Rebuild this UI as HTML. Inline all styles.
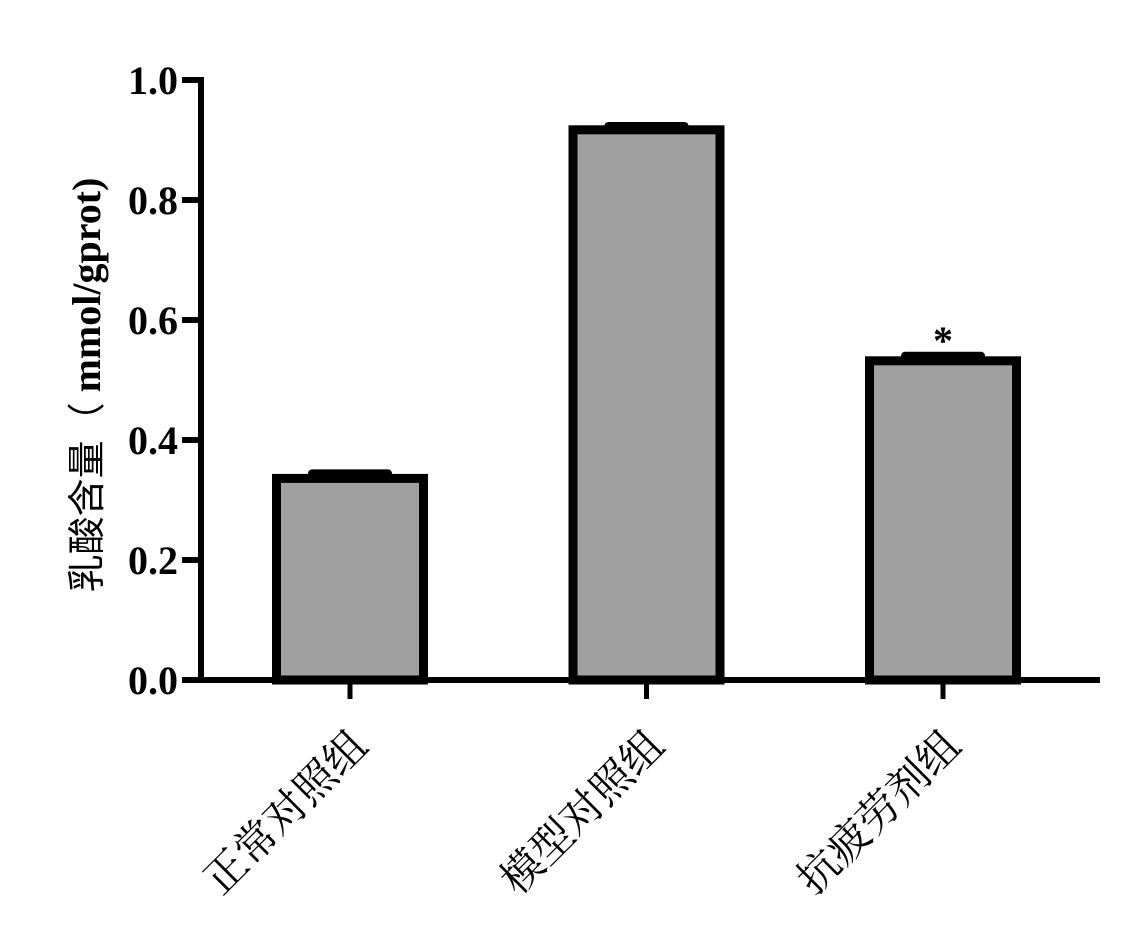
<!DOCTYPE html>
<html><head><meta charset="utf-8"><style>
html,body{margin:0;padding:0;background:#fff;}
svg{display:block;}
</style></head><body>
<svg id="chart" width="1123" height="945" viewBox="0 0 1123 945" xmlns="http://www.w3.org/2000/svg">
<g id="axes"></g>
<g id="bars"></g>
<text transform="translate(100,385) rotate(-90)" text-anchor="middle" font-size="40" font-family="'Liberation Serif','Noto Serif CJK SC',serif"><tspan font-family="'Noto Sans CJK SC',sans-serif" font-weight="normal" font-size="38">乳酸含量（</tspan><tspan font-weight="bold"> mmol/gprot)</tspan></text>
</svg>
<script>
const categories = ["正常对照组","模型对照组","抗疲劳剂组"];
const values = [0.336, 0.917, 0.532];
const errors = [0.010, 0.008, 0.010];
const marks = ["", "", "*"];
const yTicks = [0, 0.2, 0.4, 0.6, 0.8, 1.0];
const yTickLabels = ["0.0","0.2","0.4","0.6","0.8","1.0"];

const NS = "http://www.w3.org/2000/svg";
const x0 = 201, x1 = 1100, yBase = 680, yTop = 80;
function yScale(v){ return yBase - v*(yBase-yTop); }
function xCenter(i){ return 350 + i*296.5; }
const barW = 147;
function mk(tag, attrs, parent){ const e=document.createElementNS(NS,tag); for(const k in attrs) e.setAttribute(k,attrs[k]); parent.appendChild(e); return e; }
const axes = document.getElementById('axes');
const bars = document.getElementById('bars');

yTicks.forEach((t,i)=>{
  const y = yScale(t);
  const tk = mk('line',{x1:182,x2:x0,y1:y,y2:y,stroke:'#000','stroke-width':6},axes);
  
  
  const lb = mk('text',{x:178,y:y+14,'text-anchor':'end','font-size':40,'font-weight':'bold','font-family':"'Liberation Serif',serif"},axes);
  lb.textContent = yTickLabels[i];
  
  
});

categories.forEach((c,i)=>{
  const cx = xCenter(i);
  const top = yScale(values[i]);
  const et = yScale(values[i]+errors[i]);
  const eb = mk('rect',{x:cx-42,y:et-3,width:84,height:top-et+6,rx:4,fill:'#000'},bars);
  
  
  const r = mk('rect',{x:cx-barW/2,y:top,width:barW,height:yBase-top,fill:'#a0a0a1',stroke:'#000','stroke-width':9},bars);
  
  
  if(marks[i]){
    const m = mk('text',{x:cx,y:et-1,'text-anchor':'middle','font-size':40,'font-weight':'bold','font-family':"'Liberation Serif',serif"},bars);
    m.textContent = marks[i];
    
    
  }
  const tk = mk('line',{x1:cx,x2:cx,y1:yBase,y2:699,stroke:'#000','stroke-width':5},axes);
  
  
  const lb = mk('text',{transform:`translate(${cx+20},${748}) rotate(-45)`,'text-anchor':'end','font-size':42,'font-family':"'Liberation Serif','Noto Serif CJK SC',serif"},axes);
  lb.textContent = c;
  
  
});

const ya = mk('line',{x1:x0,x2:x0,y1:yTop-3,y2:yBase+3,stroke:'#000','stroke-width':6},axes);


const xa = mk('line',{x1:x0-3,x2:x1,y1:yBase,y2:yBase,stroke:'#000','stroke-width':6},axes);


</script>
</body></html>
